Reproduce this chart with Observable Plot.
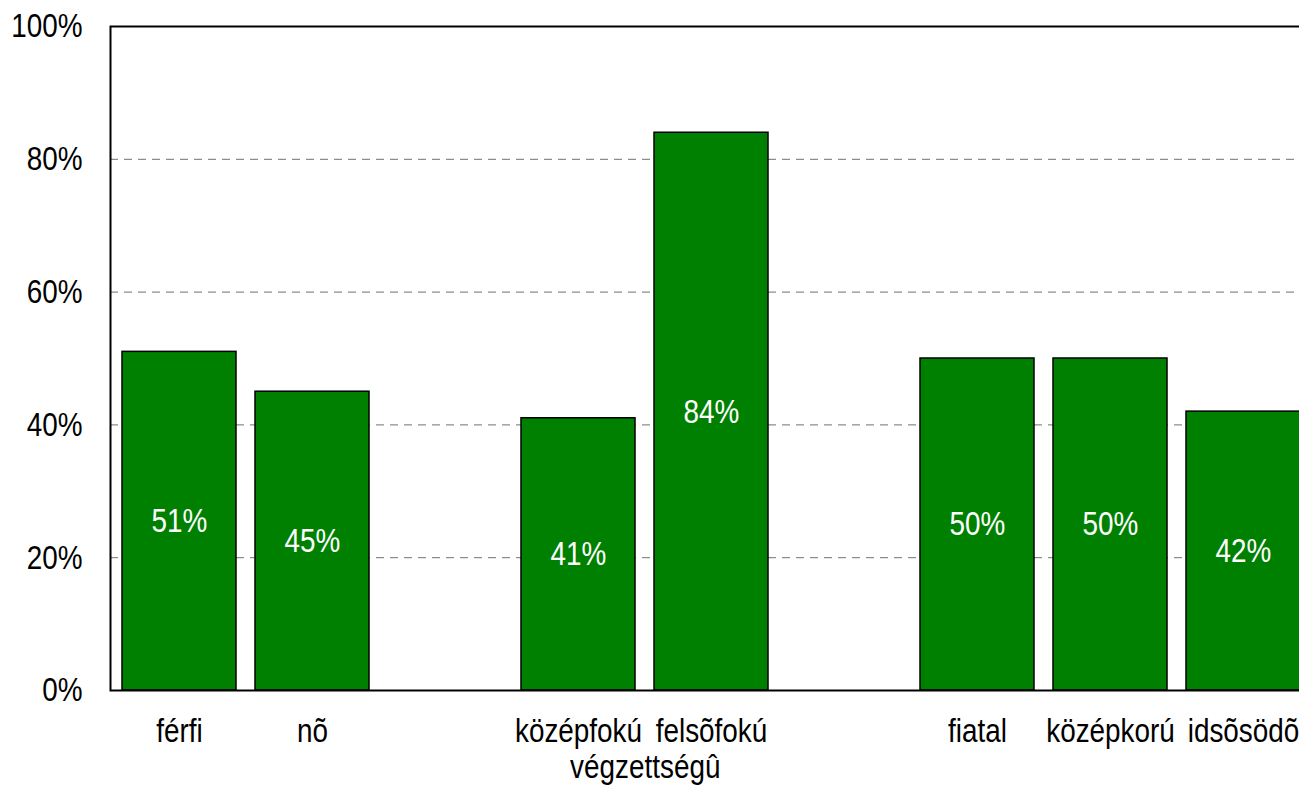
<!DOCTYPE html>
<html>
<head>
<meta charset="utf-8">
<script src="https://cdn.jsdelivr.net/npm/d3@7"></script>
<script src="https://cdn.jsdelivr.net/npm/@observablehq/plot@0.6"></script>
<style>
  html, body { margin: 0; padding: 0; background: white; overflow: hidden; }
  #chart svg { display: block; }
</style>
</head>
<body>
<div id="chart"></div>
<script>
const categories = ["férfi", "nõ", "középfokú", "felsõfokú", "fiatal", "középkorú", "idsõsödõ"];
const values = [51, 45, 41, 84, 50, 50, 42];
const slots = ["férfi", "nõ", "_gap1", "középfokú", "felsõfokú", "_gap2", "fiatal", "középkorú", "idsõsödõ"];
const yTicks = [0, 20, 40, 60, 80, 100];
const gridTicks = [20, 40, 60, 80];
const groupLabel = "végzettségû";

const data = categories.map((c, i) => ({cat: c, v: values[i]}));
const font = "'Liberation Sans Narrow', 'Arial Narrow', 'Liberation Sans', Arial, sans-serif";

const chart = Plot.plot({
  width: 1299,
  height: 791,
  marginLeft: 110,
  marginTop: 26,
  marginBottom: 101,
  marginRight: 0,
  style: {fontFamily: font, fontSize: "34px", color: "black", background: "white"},
  x: {domain: slots, range: [110.25, 1311.75], paddingInner: 0.146, paddingOuter: 0.073, label: null},
  y: {domain: [0, 100], label: null},
  marks: [
    Plot.ruleY(gridTicks, {stroke: "#707070", strokeWidth: 1, strokeDasharray: "8,6"}),
    Plot.barY(data, {x: "cat", y: "v", fill: "#008000", stroke: "black", strokeWidth: 1.5}),
    Plot.text(data, {x: "cat", y: d => d.v / 2, text: d => d.v + "%", fill: "white", fontSize: 34}),
    Plot.frame({stroke: "black", strokeWidth: 2, insetRight: -20}),
    Plot.axisY({ticks: yTicks, tickFormat: d => d + "%", tickSize: 0, tickPadding: 28, fontSize: 34, label: null}),
    Plot.axisX({tickFormat: d => d.startsWith("_") ? "" : d, tickSize: 0, tickPadding: 27, fontSize: 34, label: null}),
    Plot.text([groupLabel], {x: () => "középfokú", dx: 66.75, frameAnchor: "bottom", dy: 77, text: d => d, fontSize: 34, lineAnchor: "middle"})
  ]
});
// emulate the condensed (Arial Narrow–like) typeface of the reference
chart.querySelectorAll("text").forEach(t => {
  const tr = t.getAttribute("transform") || "";
  t.setAttribute("transform", tr + " scale(0.82,1)");
});
document.getElementById("chart").appendChild(chart);
</script>
</body>
</html>
